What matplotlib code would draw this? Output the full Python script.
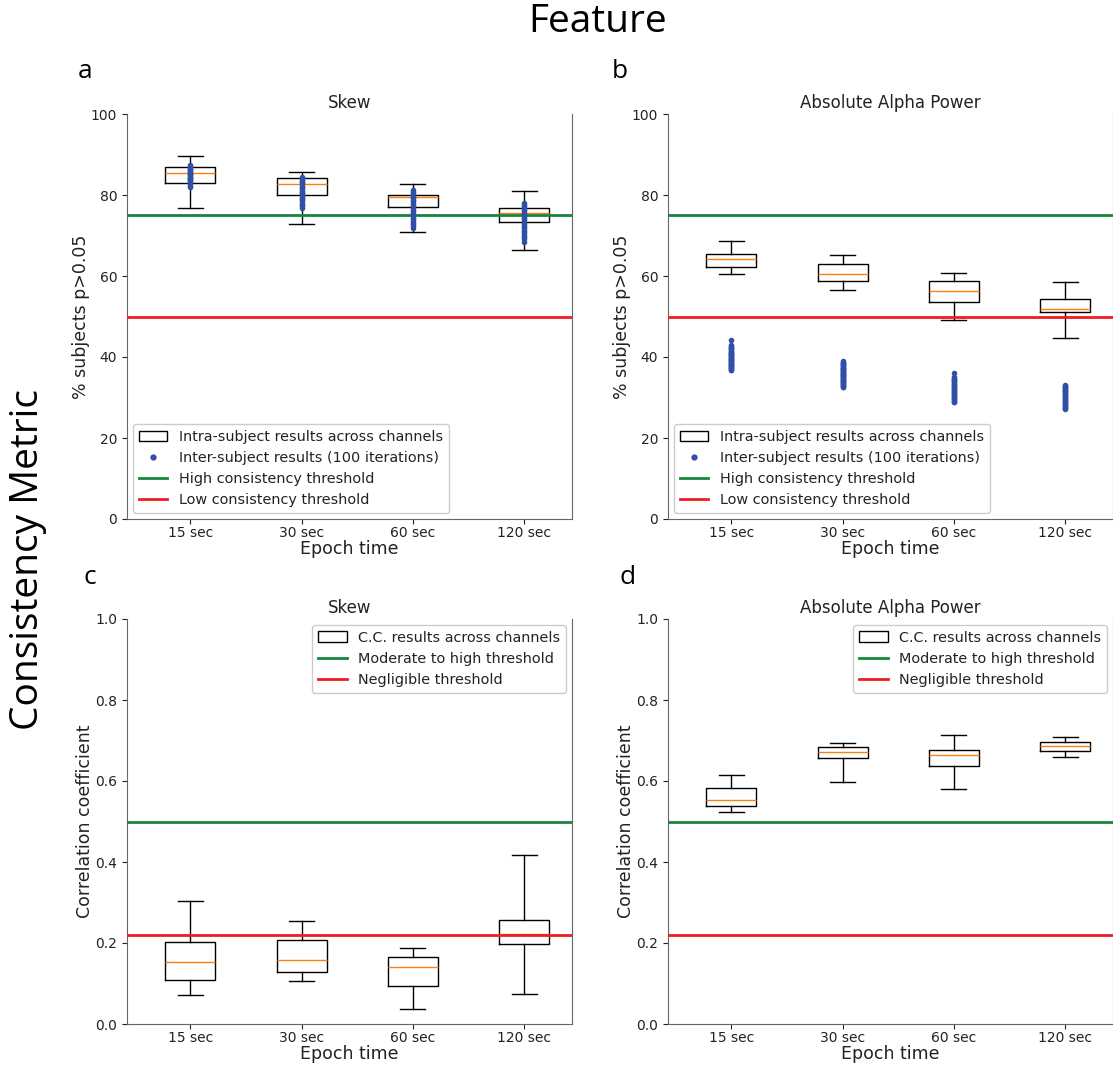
import matplotlib
matplotlib.use("Agg")
import matplotlib.pyplot as plt
from matplotlib.patches import Patch
from matplotlib.lines import Line2D

epochs = ["15 sec", "30 sec", "60 sec", "120 sec"]

# Panel a: Skew, % subjects p>0.05 (whislo, q1, med, q3, whishi)
a_whislo = [76.8, 72.9, 70.8, 66.5]
a_q1 = [82.9, 80.1, 77.0, 73.4]
a_med = [85.4, 82.8, 79.4, 75.6]
a_q3 = [87.0, 84.2, 80.1, 76.7]
a_whishi = [89.7, 85.7, 82.8, 80.9]
a_inter_15 = [87.3, 87.0, 86.8, 86.5, 86.3, 86.1, 85.9, 85.7, 85.5, 85.3, 85.1, 84.9,
              84.7, 84.5, 84.3, 84.1, 83.9, 83.7, 83.5, 83.2, 82.9, 82.6, 82.3, 81.9]
a_inter_30 = [84.4, 84.1, 83.8, 83.5, 83.2, 82.9, 82.6, 82.3, 82.0, 81.7, 81.4, 81.1,
              80.8, 80.5, 80.2, 79.9, 79.6, 79.3, 79.0, 78.7, 78.4, 78.0, 77.6, 77.2, 76.7]
a_inter_60 = [81.2, 80.8, 80.4, 80.0, 79.6, 79.2, 78.8, 78.4, 78.0, 77.6, 77.2, 76.8,
              76.4, 76.0, 75.6, 75.2, 74.8, 74.4, 74.0, 73.6, 73.2, 72.8, 72.4, 71.9]
a_inter_120 = [78.0, 77.6, 77.2, 76.8, 76.4, 76.0, 75.6, 75.2, 74.8, 74.4, 74.0, 73.6,
               73.2, 72.8, 72.4, 72.0, 71.6, 71.2, 70.8, 70.4, 70.0, 69.6, 69.1, 68.5]

# Panel b: Absolute Alpha Power
b_whislo = [60.6, 56.5, 49.1, 44.8]
b_q1 = [62.2, 58.7, 53.6, 51.2]
b_med = [64.2, 60.6, 56.3, 51.8]
b_q3 = [65.5, 63.0, 58.7, 54.4]
b_whishi = [68.7, 65.3, 60.8, 58.6]
b_inter_15 = [44.3, 42.9, 42.7, 42.5, 42.3, 42.1, 41.9, 41.7, 41.5, 41.3, 41.1, 41.0, 40.8,
              40.7, 40.5, 40.4, 40.2, 40.1, 39.9, 39.8, 39.6, 39.5, 39.3, 39.2, 39.0, 38.9,
              38.7, 38.6, 38.4, 38.3, 38.1, 38.0, 37.8, 37.7, 37.5, 37.4, 37.2, 37.1, 36.9, 36.8]
b_inter_30 = [39.0, 38.8, 38.6, 38.4, 38.3, 38.1, 38.0, 37.8, 37.6, 37.4, 37.3, 37.1,
              37.0, 36.8, 36.7, 36.5, 36.4, 36.2, 36.1, 35.9, 35.8, 35.6, 35.5, 35.3,
              35.2, 35.0, 34.9, 34.7, 34.6, 34.4, 34.3, 34.1, 34.0, 33.8, 33.7, 33.5,
              33.4, 33.2, 33.1, 32.9, 32.7, 32.5]
b_inter_60 = [36.1, 35.0, 34.8, 34.6, 34.4, 34.2, 34.0, 33.8, 33.6, 33.4, 33.2, 33.0,
              32.8, 32.6, 32.4, 32.2, 32.0, 31.8, 31.6, 31.4, 31.2, 31.0, 30.8, 30.6,
              30.4, 30.2, 30.0, 29.8, 29.6, 29.4, 29.2, 29.0, 28.9]
b_inter_120 = [33.1, 32.9, 32.7, 32.5, 32.3, 32.1, 31.9, 31.7, 31.5, 31.3, 31.1, 30.9,
               30.7, 30.5, 30.3, 30.1, 29.9, 29.7, 29.5, 29.3, 29.1, 28.9, 28.7, 28.5,
               28.3, 28.1, 27.9, 27.7, 27.5, 27.3, 27.1]

# Panel c: Skew, correlation coefficient
c_whislo = [0.072, 0.107, 0.036, 0.074]
c_q1 = [0.109, 0.129, 0.095, 0.197]
c_med = [0.152, 0.157, 0.141, 0.223]
c_q3 = [0.202, 0.207, 0.165, 0.257]
c_whishi = [0.304, 0.254, 0.188, 0.417]

# Panel d: Absolute Alpha Power, correlation coefficient
d_whislo = [0.524, 0.598, 0.581, 0.659]
d_q1 = [0.538, 0.658, 0.637, 0.673]
d_med = [0.554, 0.671, 0.663, 0.687]
d_q3 = [0.583, 0.684, 0.676, 0.697]
d_whishi = [0.614, 0.695, 0.713, 0.709]

high_thr_pct = 75
low_thr_pct = 50
mod_thr_cc = 0.5
neg_thr_cc = 0.22

GREEN = "#15853b"
RED = "#ee1d23"
BLUE = "#3050a8"

W, H = 1113, 1065
fig = plt.figure(figsize=(W / 100, H / 100), dpi=100)
plt.rcParams["font.family"] = "DejaVu Sans"


def ax_rect(left_px, top_px, right_px, bottom_px):
    return [left_px / W, 1 - bottom_px / H, (right_px - left_px) / W, (bottom_px - top_px) / H]


def make_stats(whislo, q1, med, q3, whishi):
    return [dict(whislo=whislo[i], q1=q1[i], med=med[i], q3=q3[i], whishi=whishi[i],
                 fliers=[], label=epochs[i]) for i in range(len(epochs))]


def draw_panel(rect, title, stats, ylim, yticks, ylabel, thr_hi, thr_lo, inter=None,
               legend_kind="pct", legend_loc="lower left", right_spine=True):
    ax = fig.add_axes(rect)
    pos = list(range(1, len(epochs) + 1))
    ax.bxp(stats, positions=pos, widths=0.45, showfliers=False,
           boxprops=dict(color="black", linewidth=1.0),
           whiskerprops=dict(color="black", linewidth=1.0),
           capprops=dict(color="black", linewidth=1.0),
           medianprops=dict(color="#ff7f0e", linewidth=1.0))
    ax.axhline(thr_hi, color=GREEN, linewidth=2, zorder=3)
    ax.axhline(thr_lo, color=RED, linewidth=2, zorder=3)
    if inter is not None:
        for p, vals in zip(pos, inter):
            ax.plot([p] * len(vals), vals, "o", color=BLUE, markersize=4,
                    markeredgewidth=0, zorder=4)
    ax.set_xlim(0.43, 4.43)
    ax.set_ylim(*ylim)
    ax.set_yticks(yticks)
    ax.set_xticks(pos)
    ax.set_xticklabels(epochs)
    ax.tick_params(labelsize=10, colors="#222222")
    ax.tick_params(axis="x", pad=1.5)
    ax.set_title(title, fontsize=12, color="#222222", pad=4)
    ax.set_xlabel("Epoch time", fontsize=12.5, color="#222222", labelpad=0)
    ax.set_ylabel(ylabel, fontsize=12.5, color="#222222", labelpad=1)
    ax.spines["top"].set_visible(False)
    ax.spines["right"].set_visible(right_spine)
    for s in ["left", "bottom", "right"]:
        ax.spines[s].set_color("#666666")
    if legend_kind == "pct":
        handles = [Patch(facecolor="white", edgecolor="black", linewidth=1.0),
                   Line2D([], [], marker="o", linestyle="none", color=BLUE, markersize=4.5,
                          markeredgewidth=0),
                   Line2D([], [], color=GREEN, linewidth=2),
                   Line2D([], [], color=RED, linewidth=2)]
        labels = ["Intra-subject results across channels",
                  "Inter-subject results (100 iterations)",
                  "High consistency threshold", "Low consistency threshold"]
    else:
        handles = [Patch(facecolor="white", edgecolor="black", linewidth=1.0),
                   Line2D([], [], color=GREEN, linewidth=2),
                   Line2D([], [], color=RED, linewidth=2)]
        labels = ["C.C. results across channels", "Moderate to high threshold",
                  "Negligible threshold"]
    leg = ax.legend(handles, labels, loc=legend_loc, fontsize=10.4, framealpha=1,
                    borderaxespad=0.4)
    for t in leg.get_texts():
        t.set_color("#222222")
    return ax


ax_a = draw_panel(ax_rect(127, 114, 572, 519), "Skew",
                  make_stats(a_whislo, a_q1, a_med, a_q3, a_whishi),
                  (0, 100), [0, 20, 40, 60, 80, 100], "% subjects p>0.05",
                  high_thr_pct, low_thr_pct,
                  inter=[a_inter_15, a_inter_30, a_inter_60, a_inter_120])
ax_b = draw_panel(ax_rect(668, 114, 1113, 519), "Absolute Alpha Power",
                  make_stats(b_whislo, b_q1, b_med, b_q3, b_whishi),
                  (0, 100), [0, 20, 40, 60, 80, 100], "% subjects p>0.05",
                  high_thr_pct, low_thr_pct,
                  inter=[b_inter_15, b_inter_30, b_inter_60, b_inter_120])
ax_c = draw_panel(ax_rect(127, 619, 572, 1024), "Skew",
                  make_stats(c_whislo, c_q1, c_med, c_q3, c_whishi),
                  (0, 1.0), [0.0, 0.2, 0.4, 0.6, 0.8, 1.0], "Correlation coefficient",
                  mod_thr_cc, neg_thr_cc, legend_kind="cc", legend_loc="upper right")
ax_d = draw_panel(ax_rect(668, 619, 1113, 1024), "Absolute Alpha Power",
                  make_stats(d_whislo, d_q1, d_med, d_q3, d_whishi),
                  (0, 1.0), [0.0, 0.2, 0.4, 0.6, 0.8, 1.0], "Correlation coefficient",
                  mod_thr_cc, neg_thr_cc, legend_kind="cc", legend_loc="upper right")

big_font = "Open Sans"
fig.text(598 / W, 1 - 22 / H, "Feature", fontsize=28, family=big_font, ha="center", va="center")
fig.text(28 / W, 1 - 560 / H, "Consistency Metric", fontsize=28, family=big_font,
         rotation=90, ha="center", va="center")
for lab, x, y in [("a", 85, 72), ("b", 620, 72), ("c", 90, 578), ("d", 628, 578)]:
    fig.text(x / W, 1 - y / H, lab, fontsize=19, family=big_font, ha="center", va="center")

fig.savefig("out.png", dpi=100)
